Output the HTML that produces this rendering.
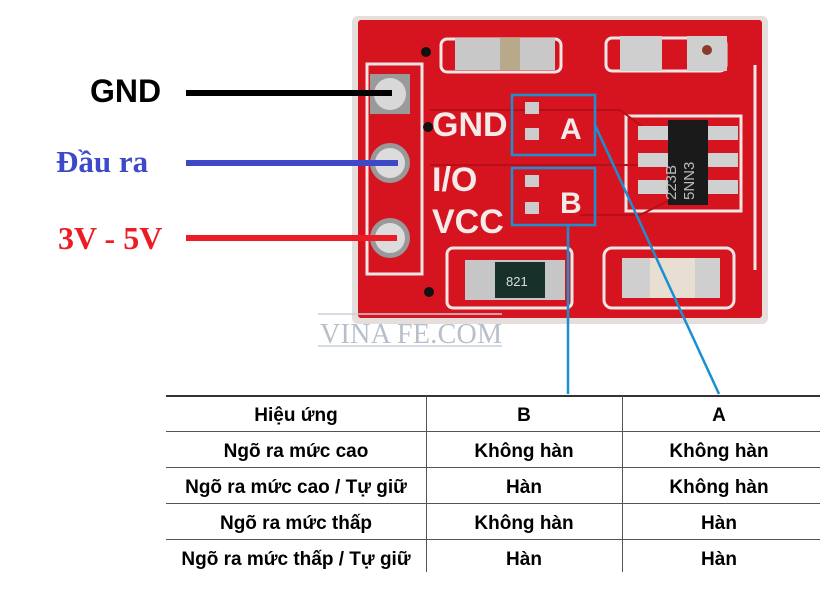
<!DOCTYPE html>
<html><head><meta charset="utf-8"><style>
html,body{margin:0;padding:0;background:#fff;width:833px;height:603px;overflow:hidden}
svg{display:block}
</style></head><body>
<svg width="833" height="603" viewBox="0 0 833 603" xmlns="http://www.w3.org/2000/svg">
<!-- board -->
<rect x="352" y="16" width="416" height="308" rx="6" fill="#e4dedd"/>
<rect x="358" y="20" width="404" height="298" rx="3" fill="#d6141f"/>
<!-- silkscreen outlines -->
<g fill="none" stroke="#f1e6e6" stroke-width="3">
<rect x="367" y="64" width="55" height="210"/>
<rect x="441" y="39" width="120" height="33" rx="6"/>
<rect x="606" y="38" width="120" height="33" rx="6"/>
<rect x="626" y="116" width="115" height="95"/>
<rect x="447" y="248" width="125" height="60" rx="6"/>
<rect x="604" y="248" width="130" height="60" rx="8"/>
<line x1="755" y1="65" x2="755" y2="270"/>
</g>
<!-- traces -->
<g stroke="#b80e18" stroke-width="2" fill="none">
<path d="M430 110 L620 110 L660 140"/><path d="M430 165 L640 165"/><path d="M580 215 L640 215 L690 190"/>
</g>
<!-- pins -->
<rect x="370" y="74" width="40" height="40" fill="#9a9a9a"/>
<circle cx="390" cy="94" r="16" fill="#d8d8d8"/>
<circle cx="390" cy="163" r="20" fill="#999"/><circle cx="390" cy="163" r="15" fill="#dcdcdc"/>
<circle cx="390" cy="238" r="20" fill="#999"/><circle cx="390" cy="238" r="15" fill="#dcdcdc"/>
<circle cx="426" cy="52" r="5" fill="#111"/><circle cx="428" cy="127" r="5" fill="#111"/><circle cx="429" cy="292" r="5" fill="#111"/>
<!-- silk labels -->
<g font-family="Liberation Sans, sans-serif" font-weight="bold" fill="#f4eaea" font-size="34">
<text x="432" y="136">GND</text><text x="432" y="191">I/O</text><text x="432" y="233">VCC</text>
<text x="560" y="139" font-size="30">A</text><text x="560" y="213" font-size="30">B</text>
</g>
<!-- top pads -->
<rect x="455" y="38" width="45" height="32" fill="#c8c8c8"/><rect x="500" y="38" width="20" height="32" fill="#b7a98a"/><rect x="520" y="38" width="35" height="32" fill="#c8c8c8"/>
<rect x="620" y="36" width="42" height="35" fill="#cfcfcf"/><rect x="687" y="36" width="40" height="35" fill="#cfcfcf"/><circle cx="707" cy="50" r="5" fill="#8a3a2a"/>
<!-- small pads -->
<rect x="525" y="102" width="14" height="12" fill="#ccc"/><rect x="525" y="128" width="14" height="12" fill="#ccc"/>
<rect x="525" y="175" width="14" height="12" fill="#ccc"/><rect x="525" y="202" width="14" height="12" fill="#ccc"/>
<!-- chip -->
<g fill="#d0d0d0"><rect x="638" y="126" width="30" height="14"/><rect x="638" y="153" width="30" height="14"/><rect x="638" y="180" width="30" height="14"/>
<rect x="708" y="126" width="30" height="14"/><rect x="708" y="153" width="30" height="14"/><rect x="708" y="180" width="30" height="14"/></g>
<rect x="668" y="120" width="40" height="85" fill="#1a1a1a"/>
<text x="0" y="0" transform="translate(676,200) rotate(-90)" font-family="Liberation Sans, sans-serif" font-size="15" fill="#bbb">223B</text>
<text x="0" y="0" transform="translate(694,200) rotate(-90)" font-family="Liberation Sans, sans-serif" font-size="15" fill="#bbb">5NN3</text>
<!-- bottom parts -->
<rect x="465" y="260" width="100" height="40" fill="#c6c6c6"/><rect x="495" y="262" width="50" height="36" fill="#17302a"/>
<text x="506" y="286" font-family="Liberation Sans, sans-serif" font-size="13" fill="#ddd">821</text>
<rect x="622" y="258" width="98" height="40" fill="#cfcfcf"/><rect x="650" y="258" width="45" height="40" fill="#e8dfd2"/>
<!-- connectors -->
<line x1="186" y1="93" x2="392" y2="93" stroke="#000" stroke-width="6"/>
<line x1="186" y1="163" x2="398" y2="163" stroke="#3d49c9" stroke-width="6"/>
<line x1="186" y1="238" x2="397" y2="238" stroke="#ec1c24" stroke-width="6"/>
<g font-weight="bold">
<text x="90" y="102" font-family="Liberation Sans, sans-serif" font-size="32" fill="#000">GND</text>
<text x="56" y="172" font-family="Liberation Serif, serif" font-size="31" fill="#3d49c9">Đầu ra</text>
<text x="58" y="249" font-family="Liberation Serif, serif" font-size="32" fill="#ec1c24">3V - 5V</text>
</g>
<!-- blue boxes -->
<g fill="none" stroke="#1b8fd2" stroke-width="2.5">
<rect x="512" y="95" width="83" height="60"/><rect x="512" y="168" width="83" height="57"/>
<line x1="568" y1="225" x2="568" y2="394"/><line x1="595" y1="125" x2="719" y2="394"/>
</g>
<!-- watermark -->
<line x1="318" y1="314" x2="502" y2="314" stroke="#c8cdd8" stroke-width="1.5"/>
<line x1="318" y1="346" x2="502" y2="346" stroke="#c8cdd8" stroke-width="1.5"/>
<text x="320" y="343" font-family="Liberation Serif, serif" font-size="28" fill="#b8bfcc" textLength="182">VINA FE.COM</text>
<!-- table -->
<line x1="166" y1="396" x2="820" y2="396" stroke="#333" stroke-width="2"/>
<g stroke="#555" stroke-width="1">
<line x1="166" y1="431.5" x2="820" y2="431.5"/><line x1="166" y1="467.5" x2="820" y2="467.5"/>
<line x1="166" y1="503.5" x2="820" y2="503.5"/><line x1="166" y1="539.5" x2="820" y2="539.5"/>
<line x1="426.5" y1="396" x2="426.5" y2="572"/><line x1="622.5" y1="396" x2="622.5" y2="572"/>
</g>
<g font-family="Liberation Sans Narrow, Liberation Sans, sans-serif" font-size="19" fill="#000" text-anchor="middle" font-weight="bold">
<text x="296" y="421">Hiệu ứng</text><text x="524" y="421">B</text><text x="719" y="421">A</text>
<text x="296" y="457">Ngõ ra mức cao</text><text x="524" y="457">Không hàn</text><text x="719" y="457">Không hàn</text>
<text x="296" y="493">Ngõ ra mức cao / Tự giữ</text><text x="524" y="493">Hàn</text><text x="719" y="493">Không hàn</text>
<text x="296" y="529">Ngõ ra mức thấp</text><text x="524" y="529">Không hàn</text><text x="719" y="529">Hàn</text>
<text x="296" y="565">Ngõ ra mức thấp / Tự giữ</text><text x="524" y="565">Hàn</text><text x="719" y="565">Hàn</text>
</g>
</svg>
</body></html>
